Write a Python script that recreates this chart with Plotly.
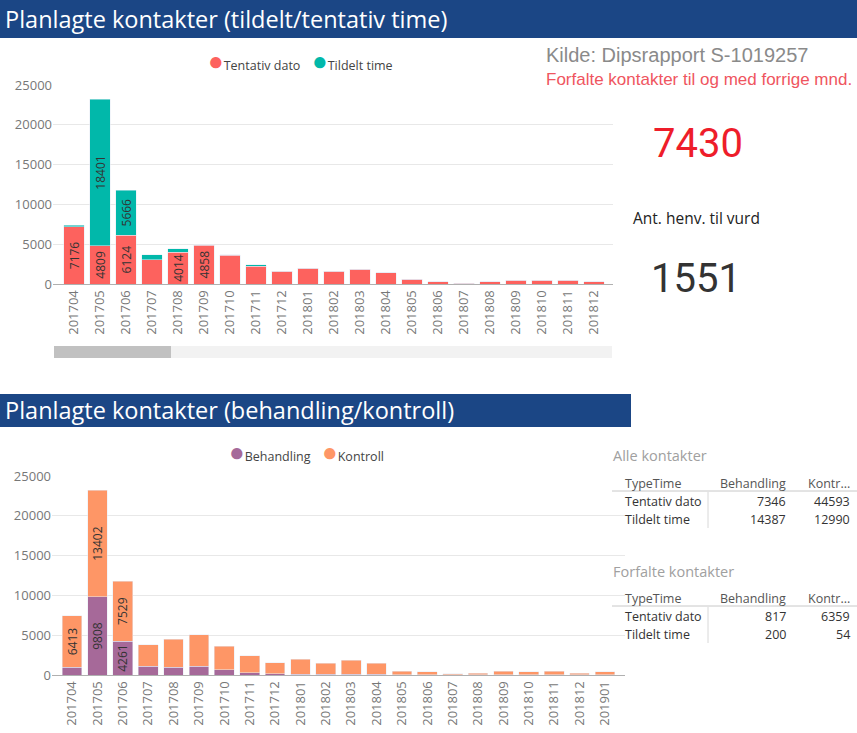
import plotly.graph_objects as go

W, H = 857, 733

# ---------------- data ----------------
months_top = ["201704", "201705", "201706", "201707", "201708", "201709", "201710",
              "201711", "201712", "201801", "201802", "201803", "201804", "201805",
              "201806", "201807", "201808", "201809", "201810", "201811", "201812"]
tentativ_dato = [7176, 4809, 6124, 3050, 4014, 4858, 3600, 2260, 1580, 1960, 1580,
                 1830, 1420, 580, 290, 80, 290, 450, 450, 450, 290]
tildelt_time = [200, 18401, 5666, 630, 420, 100, 80, 150, 0, 0, 0,
                0, 0, 0, 0, 0, 0, 0, 0, 0, 0]

months_bottom = months_top + ["201901"]
behandling = [1000, 9808, 4261, 1130, 1000, 1130, 630, 300, 130, 120, 80,
              80, 80, 20, 20, 10, 20, 30, 20, 30, 20, 20]
kontroll = [6413, 13402, 7529, 2650, 3500, 3900, 3000, 2100, 1380, 1880, 1420,
            1800, 1420, 480, 360, 120, 230, 470, 360, 470, 230, 360]

y_ticks = [0, 5000, 10000, 15000, 20000, 25000]

kpi_forfalte = 7430
kpi_henv = 1551

tbl_cols = ["TypeTime", "Behandling", "Kontr..."]
tbl_rows = ["Tentativ dato", "Tildelt time"]
alle_behandling = [7346, 14387]
alle_kontroll = [44593, 12990]
forf_behandling = [817, 200]
forf_kontroll = [6359, 54]

# ---------------- style ----------------
C_RED = "#FD625E"
C_TEAL = "#01B8AA"
C_PURPLE = "#A66999"
C_ORANGE = "#FE9666"
C_BAND = "#1B4685"
FONT = "Open Sans"
LABEL_MIN = 4000


def X(px):
    return px / W


def Y(py):
    return 1 - py / H


def labels(vals):
    return [str(v) if v >= LABEL_MIN else "" for v in vals]


fig = go.Figure()

bar_common = dict(textposition="inside", textangle=-90, insidetextanchor="middle",
                  textfont=dict(family=FONT, size=12, color="#333333"),
                  constraintext="none", showlegend=False, hoverinfo="x+y+name")

fig.add_bar(x=months_top, y=tentativ_dato, name="Tentativ dato", marker_color=C_RED,
            text=labels(tentativ_dato), xaxis="x", yaxis="y", **bar_common)
fig.add_bar(x=months_top, y=tildelt_time, name="Tildelt time", marker_color=C_TEAL,
            text=labels(tildelt_time), xaxis="x", yaxis="y", **bar_common)
fig.add_bar(x=months_bottom, y=behandling, name="Behandling", marker_color=C_PURPLE,
            text=labels(behandling), xaxis="x2", yaxis="y2", **bar_common)
fig.add_bar(x=months_bottom, y=kontroll, name="Kontroll", marker_color=C_ORANGE,
            text=labels(kontroll), xaxis="x2", yaxis="y2", **bar_common)

axis_x = dict(type="category", tickangle=-90, ticks="", showgrid=False, automargin=False,
              showline=True, linecolor="#b0b0b0", linewidth=1,
              tickfont=dict(family=FONT, size=13, color="#777777"), fixedrange=True)
axis_y = dict(range=[0, 25000], tickvals=y_ticks, tickformat="d", showgrid=True,
              gridcolor="#e8e8e8", zeroline=False, showline=False, ticks="", automargin=False,
              tickfont=dict(family=FONT, size=13, color="#777777"), fixedrange=True)

fig.update_layout(
    width=W, height=H,
    margin=dict(l=0, r=0, t=0, b=0, pad=0, autoexpand=False),
    paper_bgcolor="white", plot_bgcolor="white",
    barmode="stack", bargap=0.22, showlegend=False,
    font=dict(family=FONT, color="#444444"),
    xaxis=dict(axis_x, domain=[X(53), X(613)], range=[-0.81, 20.73], anchor="y"),
    yaxis=dict(axis_y, domain=[Y(284), Y(85)], anchor="x"),
    xaxis2=dict(axis_x, domain=[X(52), X(625)], range=[-0.79, 21.79], anchor="y2"),
    yaxis2=dict(axis_y, domain=[Y(675), Y(476)], anchor="x2"),
)

shapes = []
annotations = []

# white backing for table area so gridlines only peek out on the left
shapes.append(dict(type="rect", xref="paper", yref="paper", x0=X(626), x1=1, y0=Y(660), y1=Y(440),
                   fillcolor="white", line_width=0, layer="below"))
# title bands
shapes.append(dict(type="rect", xref="paper", yref="paper", x0=0, x1=1, y0=Y(38), y1=Y(0),
                   fillcolor=C_BAND, line_width=0, layer="below"))
shapes.append(dict(type="rect", xref="paper", yref="paper", x0=0, x1=X(631), y0=Y(427), y1=Y(394),
                   fillcolor=C_BAND, line_width=0, layer="below"))
# scrollbar
shapes.append(dict(type="rect", xref="paper", yref="paper", x0=X(54), x1=X(612), y0=Y(358), y1=Y(346),
                   fillcolor="#f2f2f2", line_width=0))
shapes.append(dict(type="rect", xref="paper", yref="paper", x0=X(54), x1=X(171), y0=Y(358), y1=Y(346),
                   fillcolor="#c1c1c1", line_width=0))


def legend_item(name, color, px, py):
    annotations.append(dict(
        text=f'<span style="color:{color};font-size:26px">●</span>{name}',
        x=X(px), y=Y(py), xref="paper", yref="paper", xanchor="left", yanchor="middle",
        showarrow=False, font=dict(family=FONT, size=12.5, color="#444444")))


legend_item("Tentativ dato", C_RED, 206, 60)
legend_item("Tildelt time", C_TEAL, 310, 60)
legend_item("Behandling", C_PURPLE, 227, 451)
legend_item("Kontroll", C_ORANGE, 320, 451)

annotations.append(dict(text="Planlagte kontakter (tildelt/tentativ time)", x=X(3), y=Y(19),
                        xref="paper", yref="paper", xanchor="left", yanchor="middle", showarrow=False,
                        font=dict(family=FONT, size=23.5, color="white")))
annotations.append(dict(text="Planlagte kontakter (behandling/kontroll)", x=X(3), y=Y(410),
                        xref="paper", yref="paper", xanchor="left", yanchor="middle", showarrow=False,
                        font=dict(family=FONT, size=23.5, color="white")))
annotations.append(dict(text="Kilde: Dipsrapport S-1019257", x=X(544), y=Y(55),
                        xref="paper", yref="paper", xanchor="left", yanchor="middle", showarrow=False,
                        font=dict(family="Liberation Sans", size=20, color="#8a8a8a")))
annotations.append(dict(text="Forfalte kontakter til og med forrige mnd.", x=X(544), y=Y(79),
                        xref="paper", yref="paper", xanchor="left", yanchor="middle", showarrow=False,
                        font=dict(family="Liberation Sans", size=17, color="#ef5560")))
annotations.append(dict(text=str(kpi_forfalte), x=X(698), y=Y(143),
                        xref="paper", yref="paper", xanchor="center", yanchor="middle", showarrow=False,
                        font=dict(family="Roboto", size=40, color="#ee1d2a")))
annotations.append(dict(text="Ant. henv. til vurd", x=X(696), y=Y(218),
                        xref="paper", yref="paper", xanchor="center", yanchor="middle", showarrow=False,
                        font=dict(family=FONT, size=15.5, color="#222222")))
annotations.append(dict(text=str(kpi_henv), x=X(696), y=Y(278),
                        xref="paper", yref="paper", xanchor="center", yanchor="middle", showarrow=False,
                        font=dict(family="Roboto", size=40, color="#333333")))


def add_table(title, title_y, b_vals, k_vals):
    annotations.append(dict(text=title, x=X(611), y=Y(title_y), xref="paper", yref="paper",
                            xanchor="left", yanchor="middle", showarrow=False,
                            font=dict(family=FONT, size=14.5, color="#a0a0a0")))
    hy = title_y + 27
    annotations.append(dict(text=tbl_cols[0], x=X(623), y=Y(hy), xref="paper", yref="paper",
                            xanchor="left", yanchor="middle", showarrow=False,
                            font=dict(family=FONT, size=12.5, color="#555555")))
    annotations.append(dict(text=tbl_cols[1], x=X(788), y=Y(hy), xref="paper", yref="paper",
                            xanchor="right", yanchor="middle", showarrow=False,
                            font=dict(family=FONT, size=12.5, color="#555555")))
    annotations.append(dict(text=tbl_cols[2], x=X(852), y=Y(hy), xref="paper", yref="paper",
                            xanchor="right", yanchor="middle", showarrow=False,
                            font=dict(family=FONT, size=12.5, color="#555555")))
    ly = hy + 8
    shapes.append(dict(type="line", xref="paper", yref="paper", x0=X(612), x1=X(857),
                       y0=Y(ly), y1=Y(ly), line=dict(color="#c8c8c8", width=1)))
    shapes.append(dict(type="line", xref="paper", yref="paper", x0=X(708), x1=X(708),
                       y0=Y(ly + 1), y1=Y(ly + 37), line=dict(color="#d8d8d8", width=1)))
    for i, rname in enumerate(tbl_rows):
        ry = hy + 18 + 18 * i
        annotations.append(dict(text=rname, x=X(623), y=Y(ry), xref="paper", yref="paper",
                                xanchor="left", yanchor="middle", showarrow=False,
                                font=dict(family=FONT, size=12.5, color="#333333")))
        annotations.append(dict(text=str(b_vals[i]), x=X(788), y=Y(ry), xref="paper", yref="paper",
                                xanchor="right", yanchor="middle", showarrow=False,
                                font=dict(family=FONT, size=12.5, color="#333333")))
        annotations.append(dict(text=str(k_vals[i]), x=X(852), y=Y(ry), xref="paper", yref="paper",
                                xanchor="right", yanchor="middle", showarrow=False,
                                font=dict(family=FONT, size=12.5, color="#333333")))


add_table("Alle kontakter", 456, alle_behandling, alle_kontroll)
add_table("Forfalte kontakter", 571, forf_behandling, forf_kontroll)

fig.update_layout(shapes=shapes, annotations=annotations)
fig.write_html(
    "out.html",
    config={"displayModeBar": False},
    post_script=("document.documentElement.style.margin='0';"
                 "document.body.style.margin='0';document.body.style.padding='0';"),
)
